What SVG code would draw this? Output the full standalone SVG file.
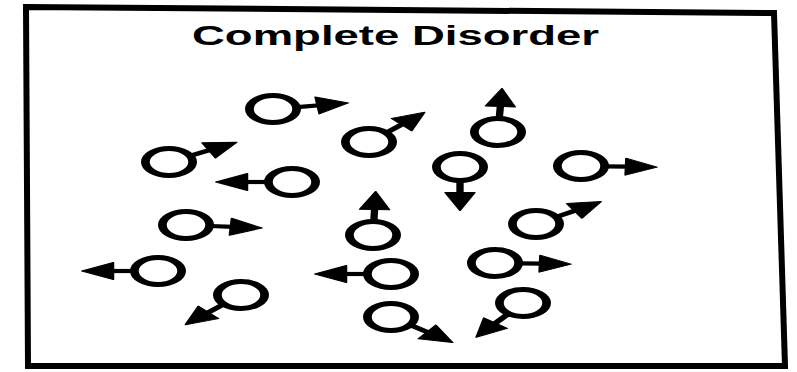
<svg xmlns="http://www.w3.org/2000/svg" xmlns:xlink="http://www.w3.org/1999/xlink" width="797" height="372" viewBox="0 0 797 372">
  <style>
    .ring { fill: none; stroke: #000; stroke-width: 5; }
    .stem { stroke: #000; stroke-width: 4.2; stroke-linecap: butt; }
    .head { fill: #000; stroke: #000; stroke-width: 1; stroke-linejoin: round; }
    .frame { fill: none; stroke: #000; stroke-width: 6; stroke-linejoin: miter; }
    .title { font-family: "Liberation Sans", Arial, sans-serif; font-weight: bold; font-size: 28px; fill: #000; }
  </style>
  <defs>
    <g id="arrow">
      <line class="stem" x1="14" y1="0" x2="27" y2="0"/>
      <polygon class="head" points="25.5,-8.5 43.5,0 25.5,8.5"/>
    </g>
    <g id="mol-body">
      <circle class="ring" cx="0" cy="0" r="13.5"/>
    </g>
  </defs>
  <rect width="797" height="372" fill="#fff"/>
  <polygon class="frame" points="26,7 774,13 785,366 28,366"/>
  <text class="title" x="192" y="45" textLength="407" lengthAdjust="spacingAndGlyphs">Complete Disorder</text>

  <g id="molecules">
    <g id="m-a" transform="translate(273,109) scale(1.75,1)"><use xlink:href="#mol-body"/><use xlink:href="#arrow" transform="rotate(-8)"/></g>
    <g id="m-b" transform="translate(169,162) scale(1.75,1)"><use xlink:href="#mol-body"/><use xlink:href="#arrow" transform="rotate(-27)"/></g>
    <g id="m-c" transform="translate(292,182) scale(1.75,1)"><use xlink:href="#mol-body"/><use xlink:href="#arrow" transform="rotate(180)"/></g>
    <g id="m-d" transform="translate(186,225) scale(1.75,1)"><use xlink:href="#mol-body"/><use xlink:href="#arrow" transform="rotate(4)"/></g>
    <g id="m-e" transform="translate(158,271) scale(1.75,1)"><use xlink:href="#mol-body"/><use xlink:href="#arrow" transform="rotate(180)"/></g>
    <g id="m-f" transform="translate(241,295) scale(1.75,1)"><use xlink:href="#mol-body"/><use xlink:href="#arrow" transform="rotate(137)"/></g>
    <g id="m-g" transform="translate(373,235) scale(1.75,1)"><use xlink:href="#mol-body"/><use xlink:href="#arrow" transform="rotate(-88)"/></g>
    <g id="m-h" transform="translate(369,142) scale(1.75,1)"><use xlink:href="#mol-body"/><use xlink:href="#arrow" transform="rotate(-43)"/></g>
    <g id="m-i" transform="translate(498,132) scale(1.75,1)"><use xlink:href="#mol-body"/><use xlink:href="#arrow" transform="rotate(-87)"/></g>
    <g id="m-j" transform="translate(460,167) scale(1.75,1)"><use xlink:href="#mol-body"/><use xlink:href="#arrow" transform="rotate(90)"/></g>
    <g id="m-k" transform="translate(581,166) scale(1.75,1)"><use xlink:href="#mol-body"/><use xlink:href="#arrow" transform="rotate(1.5)"/></g>
    <g id="m-l" transform="translate(536,224) scale(1.75,1)"><use xlink:href="#mol-body"/><use xlink:href="#arrow" transform="rotate(-31)"/></g>
    <g id="m-m" transform="translate(495,263) scale(1.75,1)"><use xlink:href="#mol-body"/><use xlink:href="#arrow" transform="rotate(1.5)"/></g>
    <g id="m-n" transform="translate(523,303) scale(1.75,1)"><use xlink:href="#mol-body"/><use xlink:href="#arrow" transform="rotate(128)"/></g>
    <g id="m-o" transform="translate(391,274) scale(1.75,1)"><use xlink:href="#mol-body"/><use xlink:href="#arrow" transform="rotate(180)"/></g>
    <g id="m-p" transform="translate(391,317) scale(1.75,1)"><use xlink:href="#mol-body"/><use xlink:href="#arrow" transform="rotate(36)"/></g>
  </g>
  <g id="connectors"/>
</svg>
